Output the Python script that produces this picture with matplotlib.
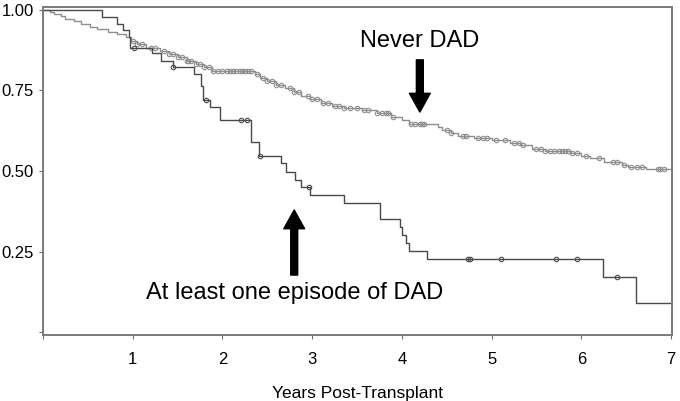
import numpy as np
import matplotlib.pyplot as plt

plt.rcParams['font.family'] = ['Liberation Sans', 'DejaVu Sans']

# Kaplan-Meier step points (time in years, survival after the drop)
never_t = [0.0, 0.08, 0.12, 0.20, 0.25, 0.35, 0.42, 0.52, 0.60, 0.72, 0.82, 0.92,
           0.98, 1.05, 1.15, 1.30, 1.40, 1.50, 1.60, 1.70, 1.80, 1.88, 2.36, 2.42,
           2.50, 2.60, 2.70, 2.80, 2.88, 2.98, 3.10, 3.22, 3.35, 3.55, 3.72, 3.88,
           4.00, 4.08, 4.40, 4.45, 4.55, 4.62, 4.80, 5.00, 5.20, 5.32, 5.45, 5.60,
           5.88, 6.00, 6.10, 6.25, 6.45, 6.52, 6.72]
never_s = [1.000, 0.995, 0.988, 0.980, 0.972, 0.965, 0.957, 0.948, 0.942, 0.933, 0.925, 0.915,
           0.905, 0.895, 0.883, 0.872, 0.863, 0.853, 0.842, 0.832, 0.822, 0.810, 0.800, 0.790,
           0.778, 0.768, 0.757, 0.745, 0.732, 0.722, 0.712, 0.703, 0.697, 0.688, 0.679, 0.668,
           0.658, 0.645, 0.637, 0.627, 0.618, 0.610, 0.603, 0.597, 0.588, 0.580, 0.568, 0.562,
           0.556, 0.548, 0.539, 0.528, 0.519, 0.513, 0.506]
never_cens = [1.00, 1.05, 1.10, 1.20, 1.25, 1.35, 1.40, 1.45, 1.50, 1.55, 1.60, 1.62, 1.65,
              1.70, 1.75, 1.80, 1.85, 1.90, 1.95, 2.00, 2.05, 2.08, 2.12, 2.15, 2.20, 2.22,
              2.25, 2.28, 2.32, 2.38, 2.45, 2.50, 2.55, 2.60, 2.65, 2.75, 2.80, 2.85, 2.95,
              3.00, 3.05, 3.12, 3.18, 3.25, 3.30, 3.35, 3.42, 3.50, 3.58, 3.62, 3.72, 3.78,
              3.82, 3.85, 3.90, 4.10, 4.15, 4.20, 4.22, 4.25, 4.50, 4.55, 4.68, 4.72, 4.85,
              4.90, 4.95, 5.05, 5.15, 5.25, 5.30, 5.35, 5.50, 5.55, 5.60, 5.65, 5.70, 5.75,
              5.78, 5.82, 5.85, 5.90, 5.95, 6.05, 6.20, 6.35, 6.40, 6.48, 6.55, 6.62, 6.68,
              6.85, 6.88, 6.92]

dad_t = [0.0, 0.66, 0.83, 0.89, 0.96, 0.97, 1.21, 1.32, 1.45, 1.68, 1.76, 1.78, 1.86,
         1.97, 2.32, 2.41, 2.65, 2.71, 2.81, 2.88, 2.98, 3.36, 3.76, 3.98, 4.00, 4.05,
         4.08, 4.28, 6.24, 6.61]
dad_s = [1.000, 0.978, 0.957, 0.938, 0.917, 0.883, 0.865, 0.842, 0.822, 0.801, 0.764, 0.720, 0.698,
         0.658, 0.591, 0.548, 0.524, 0.498, 0.472, 0.451, 0.425, 0.402, 0.351, 0.327, 0.301, 0.275,
         0.252, 0.227, 0.172, 0.089]
dad_cens = [1.02, 1.45, 1.82, 2.21, 2.27, 2.42, 2.96, 4.74, 4.76, 5.10, 5.72, 5.95, 6.40]

t_end = 7.0
xticks = [0, 1, 2, 3, 4, 5, 6, 7]
xticklabels = ['', '1', '2', '3', '4', '5', '6', '7']
yticks = [0, 0.25, 0.5, 0.75, 1.0]
yticklabels = ['', '0.25', '0.50', '0.75', '1.00']


def surv_at(t, s, x):
    idx = np.searchsorted(t, x, side='right') - 1
    return np.array(s)[idx]


fig = plt.figure(figsize=(6.8, 4.01), dpi=100)
ax = fig.add_axes([0.0632, 0.1646, 0.925, 0.8187])

gray = '#8e8e8e'
dark = '#4a4a4a'

ax.step(never_t + [t_end], never_s + [never_s[-1]], where='post', color=gray, lw=1.0)
ax.plot(never_cens, surv_at(never_t, never_s, never_cens), 'o', ms=3.2,
        mfc='none', mec=gray, mew=0.8)

ax.step(dad_t + [t_end], dad_s + [dad_s[-1]], where='post', color=dark, lw=1.0)
ax.plot(dad_cens, surv_at(dad_t, dad_s, dad_cens), 'o', ms=3.2,
        mfc='none', mec=dark, mew=0.8)

ax.set_xlim(0, 7.01)
ax.set_ylim(-0.009, 1.01)
ax.set_xticks(xticks)
ax.set_xticklabels(xticklabels)
ax.set_yticks(yticks)
ax.set_yticklabels(yticklabels)
ax.tick_params(axis='both', labelsize=12, length=3, color='#707070')
ax.tick_params(axis='x', pad=9)
ax.tick_params(axis='y', pad=3.5)
for sp in ax.spines.values():
    sp.set_color('#7a7a7a')
    sp.set_linewidth(1.4)

ax.set_xlabel('Years Post-Transplant', fontsize=12.5, labelpad=14)

ax.text(4.2, 0.905, 'Never DAD', fontsize=17, ha='center', va='center')
ax.text(2.8, 0.12, 'At least one episode of DAD', fontsize=17, ha='center', va='center')

arrow = dict(arrowstyle='simple,head_length=13.5,head_width=15,tail_width=5',
             color='black', mutation_scale=1, shrinkA=0, shrinkB=0)
ax.annotate('', xy=(4.2, 0.683), xytext=(4.2, 0.845), arrowprops=arrow)
ax.annotate('', xy=(2.8, 0.379), xytext=(2.8, 0.177), arrowprops=arrow)

plt.savefig('out.png', dpi=100)
